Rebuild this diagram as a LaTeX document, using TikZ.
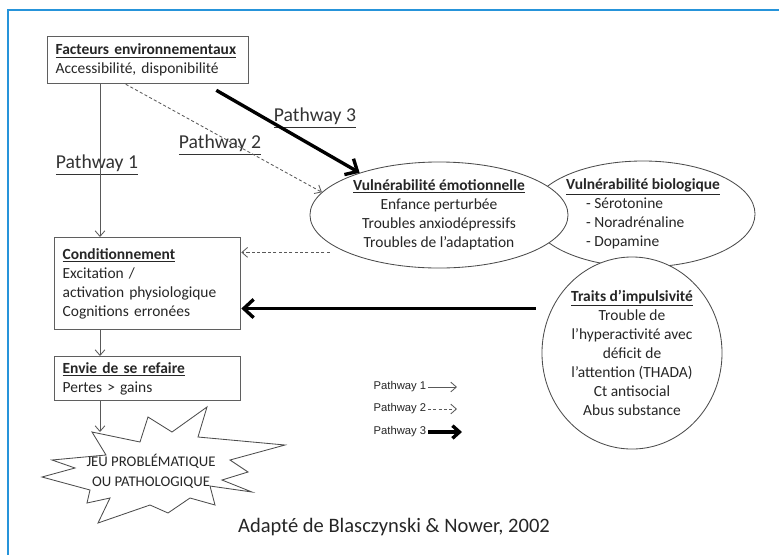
\documentclass[tikz,border=0pt]{standalone}
\usepackage{fontspec}
\setmainfont{Carlito}
\newfontfamily\legendfont{Liberation Sans}
\usepackage{xcolor}
\usetikzlibrary{arrows,arrows.meta,shapes}
\definecolor{frameblue}{RGB}{38,148,218}
\definecolor{linegray}{RGB}{95,95,95}

\begin{document}
\begin{tikzpicture}[x=0.025cm, y=-0.025cm, semithick, inner sep=2pt,
  every node/.style={font=\fontsize{11}{13.6}\selectfont, text=black!85},
  box/.style={draw=linegray, line width=0.9pt, anchor=north west, align=left, inner xsep=0.2cm, text width=4.25cm},
  blob/.style={draw=black!70, ellipse, fill=white, align=center, line width=0.6pt, inner sep=0pt},
  lab/.style={font=\fontsize{14}{17}\selectfont, text=black!80},
  legend/.style={font=\legendfont\fontsize{8}{9}\selectfont, anchor=east, inner sep=1pt},
  p1/.style={-{Straight Barb[length=4pt,width=7pt]}, draw=black!65, line width=0.6pt},
  p2/.style={p1, dash pattern=on 2.2pt off 1.6pt},
  p3/.style={-{Straight Barb[length=7pt,width=13pt]}, line width=2.4pt, draw=black}]

  \useasboundingbox (0,0) rectangle (779,555);
  \draw[frameblue, line width=1.5pt] (779,10) -- (8,10) -- (8,555);

  \node[box, text width=4.625cm, minimum height=1.175cm] (fact) at (47,36) {\underline{\textbf{Facteurs environnementaux}}\\Accessibilité, disponibilité};
  \node[box, minimum height=2.3cm] (cond) at (54,237) {\underline{\textbf{Conditionnement}}\\Excitation /\\activation physiologique\\Cognitions erronées};
  \node[box, minimum height=1.1cm] (envie) at (54,356) {\underline{\textbf{Envie de se refaire}}\\Pertes > gains};

  \node[blob, minimum width=5.6cm, minimum height=2.65cm, align=left] (bio) at (643,214) {\underline{\textbf{Vulnérabilité biologique}}\\\hspace{0.5cm}- Sérotonine\\\hspace{0.5cm}- Noradrénaline\\\hspace{0.5cm}- Dopamine};
  \node[blob, minimum width=6.45cm, minimum height=2.65cm] (emo) at (439,215) {\underline{\textbf{Vulnérabilité émotionnelle}}\\Enfance perturbée\\Troubles anxiodépressifs\\Troubles de l’adaptation};
  \node[blob, minimum width=4.5cm, minimum height=4.8cm] (traits) at (632,353) {\underline{\textbf{Traits d’impulsivité}}\\Trouble de\\l’hyperactivité avec\\déficit de\\l’attention (THADA)\\Ct antisocial\\Abus substance};

  \draw[draw=black!70, line width=0.6pt] (92,432) -- (140,442) -- (148,417) -- (172,432) -- (207,407) -- (198,437) -- (285,445) -- (230,460) -- (248,472) -- (222,480) -- (252,492) -- (210,486) -- (215,505) -- (190,498) -- (168,513) -- (150,505) -- (98,523) -- (110,498) -- (87,503) -- (90,490) -- (42,477) -- (75,468) -- (52,460) -- (106,455) -- cycle;
  \node[align=center, font=\fontsize{10.5}{14}\selectfont] (jeu) at (151,471) {JEU PROBLÉMATIQUE\\OU PATHOLOGIQUE};

  \node[lab] (lab1) at (97,165) {\underline{Pathway 1}};
  \node[lab] (lab2) at (220,145) {\underline{Pathway 2}};
  \node[lab] (lab3) at (315,118) {\underline{Pathway 3}};

  \node[legend] (leg1) at (428,387) {Pathway 1};
  \node[legend] (leg2) at (428,409) {Pathway 2};
  \node[legend] (leg3) at (428,432) {Pathway 3};
  \coordinate (leg1end) at (457,387);
  \coordinate (leg2end) at (457,409);
  \coordinate (leg3end) at (462,432);

  \node[font=\fontsize{14.6}{17}\selectfont] (src) at (394,527) {Adapté de Blasczynski \& Nower, 2002};

  \coordinate (col) at (100,300);
  \coordinate (hit) at (100,432);

  \draw[p1] (fact.south -| col) -- (cond.north -| col);
  \draw[p1] (cond.south -| col) -- (envie.north -| col);
  \draw[p1] (envie.south -| col) -- (hit);
  \draw[p2] ([xshift=-0.56cm]fact.south) -- (emo.169);
  \draw[p3] ([xshift=-0.825cm,yshift=-0.15cm]fact.south east) -- (emo.152);
  \draw[p2, shorten <=0.42cm] (emo.202) -- (emo.202 -| cond.east);
  \draw[p3, shorten <=0.4cm] (traits.151) -- (traits.151 -| cond.east);
  \draw[p1] (leg1) -- (leg1end);
  \draw[p2] (leg2) -- (leg2end);
  \draw[p3, -{Straight Barb[length=5pt,width=9pt]}] (leg3) -- (leg3end);
\end{tikzpicture}
\end{document}
